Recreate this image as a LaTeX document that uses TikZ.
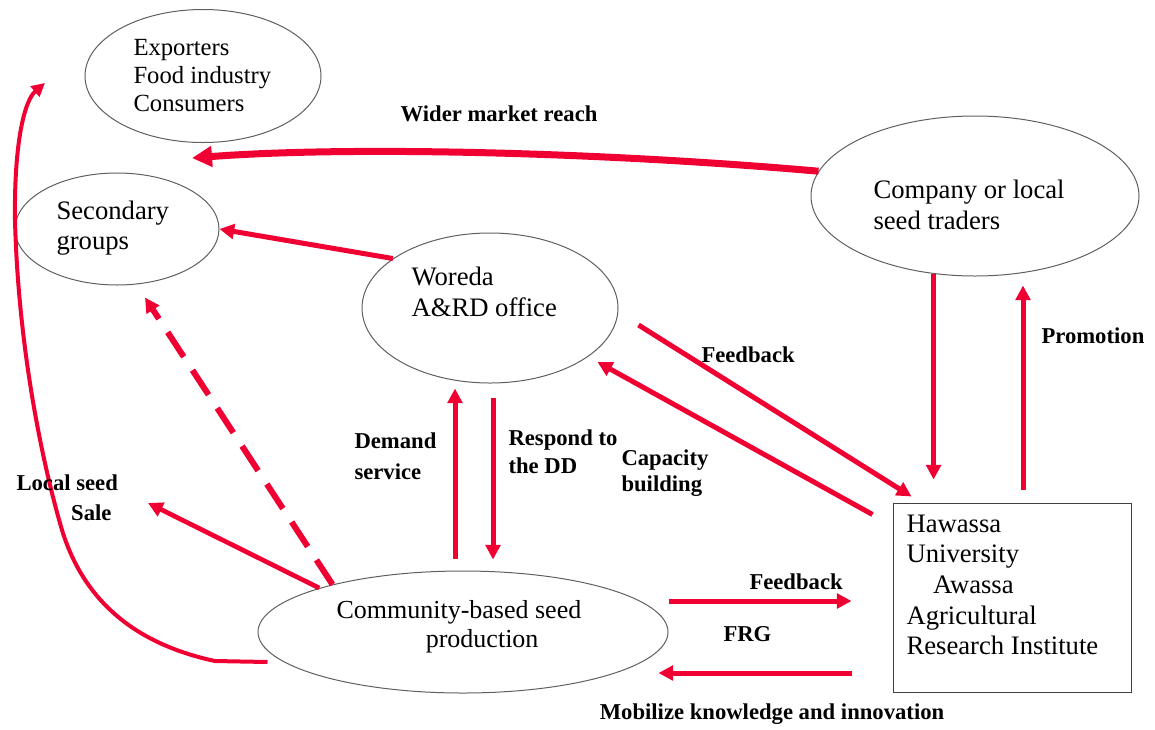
\documentclass[tikz,border=0pt]{standalone}
\usepackage{fontspec}
\setmainfont{Liberation Serif}
\usetikzlibrary{shapes.geometric,arrows.meta,calc}
\definecolor{flowred}{RGB}{240,0,50}
\definecolor{rimgray}{RGB}{95,95,95}
\tikzset{every picture/.style={line width=0.75pt}}

\begin{document}
\begin{tikzpicture}[x=0.75pt,y=0.75pt,yscale=-1,xscale=1,
  oval/.style={draw=rimgray,ellipse,inner sep=0pt},
  body/.style={font=\fontsize{20}{23}\selectfont,inner sep=0.75pt,align=left},
  tag/.style={font=\fontsize{17}{21}\selectfont\bfseries,inner sep=0.75pt,align=left},
  flow/.style={draw=flowred,line width=3.75pt,-{Triangle[length=11pt,width=11pt]}}]
\useasboundingbox (0,0) rectangle (1155,729);

%Shape: Ellipse [exporters]
\node [oval,minimum width=177pt,minimum height=99.75pt] (exp) at (203,76) {};
%Shape: Ellipse [secondary groups]
\node [oval,minimum width=153pt,minimum height=84pt] (sec) at (117,229) {};
%Shape: Ellipse [woreda office]
\node [oval,minimum width=192pt,minimum height=112.5pt] (wor) at (490,308) {};
%Shape: Ellipse [traders]
\node [oval,minimum width=246pt,minimum height=120pt] (com) at (975,196) {};
%Shape: Ellipse [community seed]
\node [oval,minimum width=307.5pt,minimum height=91.5pt] (cbs) at (463,632) {};
%Shape: Rectangle [university]
\node [draw=black!75,minimum width=178.5pt,minimum height=141.75pt,inner sep=0pt] (hu) at (1012,597.5) {};

\coordinate (wmr) at (192,158);
\coordinate (saletip) at (148,503);
\coordinate (crv) at (45,83);

% Arrows
\draw [flow,line width=5.25pt,-{Triangle[length=15pt,width=15pt]}] (com.171) .. controls (600,152) and (350,146) .. (wmr);
\draw [flow] (wor.153) -- (sec.east);
\draw [flow] (com.242) -- ($(com.242 |- hu.north)+(0,-23)$);
\draw [flow] ($(hu.north)+(11,-13)$) -- ($(com.south)+(48,9)$);
\draw [flow] ($(wor.east)+(20,17)$) -- ($(hu.north west)+(19,-6)$);
\draw [flow] ($(hu.north west)+(-20,12)$) -- ($(wor.east)+(-21,54)$);
\draw [flow] ($(cbs.north)+(-8,-12)$) -- ($(wor.south)+(-35,5)$);
\draw [flow] ($(wor.south)+(3,14)$) -- ($(cbs.north)+(30,-11)$);
\draw [flow,line width=4.5pt,dash pattern=on 22pt off 12pt] (cbs.160) -- ($(sec.south)+(28,12)$);
\draw [flow,line width=3.5pt] (cbs.163) -- (saletip);
\draw [flow,line width=3pt,-{Triangle[length=10pt,width=10pt]}] ($(cbs.west)+(10,30)$) -- (215,661) .. controls (140,645) and (85,605) .. (62,530) .. controls (40,455) and (18,340) .. (15,220) .. controls (14,140) and (25,100) .. (crv);
\draw [flow] ($(cbs.east)+(0,-31)$) -- ($(hu.west)+(-41,3.5)$);
\draw [flow] ($(hu.west)+(-41,75.5)$) -- ($(cbs.east)+(-10,41)$);

% Text Node
\draw (132,76) node [anchor=west][body,font=\fontsize{18.5}{21}\selectfont] (exptxt) {Exporters\\Food industry\\Consumers};
% Text Node
\draw (55,228) node [anchor=west][body] (sectxt) {Secondary\\groups};
% Text Node
\draw (410,292) node [anchor=west][body] (wortxt) {Woreda\\A\&RD office};
% Text Node
\draw (872,205) node [anchor=west][body] (comtxt) {Company or local\\seed traders};
% Text Node
\draw (335,627) node [anchor=west][body,font=\fontsize{19.5}{22}\selectfont] (cbstxt) {Community-based seed\\\hspace{67pt}production};
% Text Node
\draw (905,585) node [anchor=west][body] (hutxt) {Hawassa\\University\\\hspace{20pt}Awassa\\Agricultural\\Research Institute};

% Text Node
\draw (499,114) node [tag] (widertxt) {Wider market reach};
% Text Node
\draw (1040,336) node [anchor=west][tag] (promotxt) {Promotion};
% Text Node
\draw (700,355) node [anchor=west][tag] (fbtxt) {Feedback};
% Text Node
\draw (620,473) node [anchor=west][tag,font=\fontsize{17}{20}\selectfont\bfseries] (captxt) {Capacity\\building};
% Text Node
\draw (353,456) node [anchor=west][tag,font=\fontsize{17}{23}\selectfont\bfseries] (demtxt) {Demand\\service};
% Text Node
\draw (507,452) node [anchor=west][tag] (restxt) {Respond to\\the DD};
% Text Node
\draw (15,498) node [anchor=west][tag,font=\fontsize{17}{22.5}\selectfont\bfseries] (saletxt) {Local seed\\\hspace{41pt}Sale};
% Text Node
\draw (748,582) node [anchor=west][tag] (fb2txt) {Feedback};
% Text Node
\draw (722,634) node [anchor=west][tag] (frgtxt) {FRG};
% Text Node
\draw (772,714) node [tag] (mobtxt) {Mobilize knowledge and innovation};
\end{tikzpicture}
\end{document}
